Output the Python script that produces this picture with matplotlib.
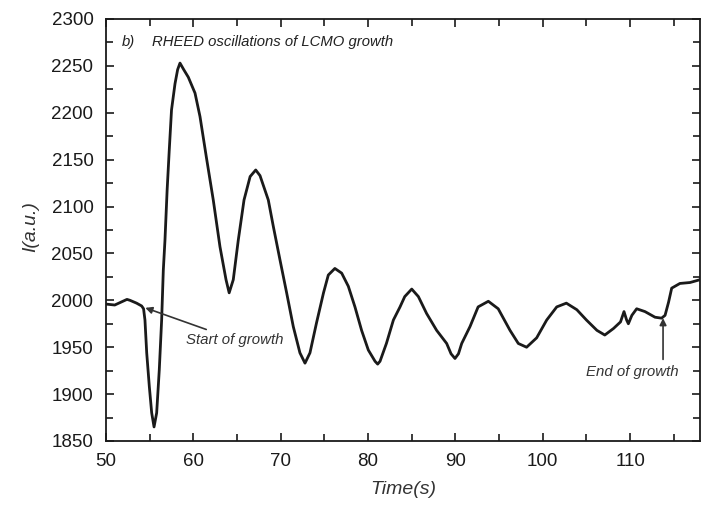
import matplotlib
matplotlib.use("Agg")
import matplotlib.pyplot as plt
from matplotlib.ticker import MultipleLocator

plt.rcParams['font.family'] = ['Liberation Sans', 'DejaVu Sans']

# Time (s) and RHEED intensity I (a.u.)
time_s = [50.0, 51.0, 52.4, 52.75, 53.5, 54.08, 54.3, 54.46, 54.66, 54.96,
          55.23, 55.5, 55.8, 56.1, 56.37, 56.56, 56.75, 57.0, 57.24, 57.5,
          57.9, 58.2, 58.47, 58.9, 59.42, 60.19, 60.76, 61.5, 62.28, 63.05,
          63.74, 64.1, 64.57, 65.14, 65.8, 66.5, 67.14, 67.63, 68.58, 69.15,
          69.92, 70.68, 71.44, 72.2, 72.78, 73.35, 74.1, 74.9, 75.45, 76.2,
          76.98, 77.74, 78.5, 79.26, 80.03, 80.8, 81.1, 81.37, 82.1, 82.9,
          83.66, 84.2, 85.0, 85.76, 86.7, 87.85, 89.0, 89.5, 89.95, 90.35,
          90.72, 91.67, 92.6, 93.77, 94.9, 96.25, 97.2, 98.15, 99.3, 100.45,
          101.6, 102.7, 103.9, 105.0, 106.2, 107.1, 108.1, 108.9, 109.3,
          109.6, 109.8, 110.2, 110.75, 111.7, 112.85, 113.6, 114.0, 114.4,
          114.76, 115.7, 116.86, 118.0]
intensity = [1996, 1995, 2001, 2000, 1997, 1994, 1991, 1979, 1944, 1908,
             1880, 1865, 1880, 1926, 1979, 2032, 2064, 2118, 2160, 2203,
             2231, 2246, 2253, 2246, 2238, 2221, 2196, 2152, 2107, 2057,
             2022, 2008, 2022, 2064, 2107, 2132, 2139, 2133, 2107, 2079,
             2043, 2008, 1972, 1944, 1933, 1944, 1976, 2008, 2027, 2034,
             2029, 2015, 1993, 1968, 1947, 1935, 1932, 1935, 1954, 1979,
             1993, 2004, 2012, 2004, 1986, 1968, 1954, 1943, 1938, 1943,
             1954, 1972, 1993, 1999, 1991, 1968, 1954, 1950, 1960, 1979,
             1993, 1997, 1990, 1979, 1968, 1963, 1970, 1977, 1988,
             1979, 1975, 1984, 1991, 1988, 1982, 1981, 1984, 1998,
             2013, 2018, 2019, 2022]

x_ticks = [50, 60, 70, 80, 90, 100, 110]
y_ticks = [1850, 1900, 1950, 2000, 2050, 2100, 2150, 2200, 2250, 2300]

fig = plt.figure(figsize=(7.11, 5.05), dpi=100)
ax = fig.add_axes([106/711, 1-441/505, 594/711, 422/505])

ax.plot(time_s, intensity, color='#1a1a1a', linewidth=2.0,
        solid_joinstyle='round')

ax.set_xlim(50, 118)
ax.set_ylim(1850, 2300)
ax.set_xticks(x_ticks)
ax.set_yticks(y_ticks)
ax.xaxis.set_minor_locator(MultipleLocator(5))
ax.yaxis.set_minor_locator(MultipleLocator(25))
ax.tick_params(which='both', direction='in', top=True, right=True,
               labelsize=13.5, width=1.2, colors='#1a1a1a')
ax.tick_params(which='major', length=6)
ax.tick_params(which='minor', length=5)
ax.tick_params(axis='x', pad=9)
ax.tick_params(axis='y', pad=9)
for s in ax.spines.values():
    s.set_linewidth(1.3)
    s.set_color('#1a1a1a')

ax.set_xlabel('Time(s)', fontsize=14, style='italic', color='#333333')
ax.xaxis.set_label_coords(0.5, -0.095)
ax.set_ylabel('I(a.u.)', fontsize=14, style='italic', color='#333333')
ax.yaxis.set_label_coords(-0.112, 0.509)

ax.text(51.8, 2276, 'b)', fontsize=10.7, style='italic', ha='left',
        va='center', color='#222222')
ax.text(55.27, 2276, 'RHEED oscillations of LCMO growth', fontsize=10.7,
        style='italic', ha='left', va='center', color='#222222')

ax.annotate('Start of growth', xy=(54.5, 1992), xytext=(59.2, 1958),
            fontsize=10.8, style='italic', ha='left', va='center', color='#333333',
            arrowprops=dict(arrowstyle='-|>', color='#333333', lw=1.2,
                            mutation_scale=10, shrinkA=1, shrinkB=0))
ax.annotate('', xy=(113.77, 1981), xytext=(113.77, 1937),
            arrowprops=dict(arrowstyle='-|>', color='#333333', lw=1.2,
                            mutation_scale=10, shrinkA=0, shrinkB=0))
ax.text(110.3, 1924, 'End of growth', fontsize=10.8, style='italic',
        ha='center', va='center', color='#333333')

fig.savefig('out.png', dpi=100)
